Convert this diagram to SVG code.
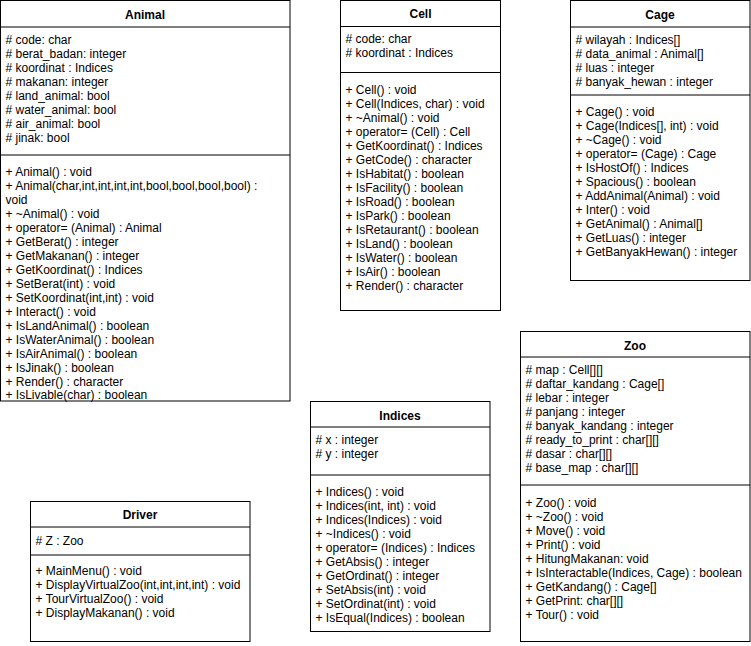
<svg xmlns="http://www.w3.org/2000/svg" width="751" height="646" viewBox="0 0 751 646">
<style>
.box{fill:#fff;stroke:#000;stroke-width:1}
.ln{stroke:#000;stroke-width:1}
text{font-family:"Liberation Sans",Arial,Helvetica,sans-serif;font-size:12px;fill:#000}
.t{font-weight:bold;text-anchor:middle}
</style>
<rect x="0" y="0" width="751" height="646" fill="#fff"/>
<g id="connectors"></g>
<g id="Animal">
<rect class="box" x="0.5" y="0.5" width="289.5" height="400.5"/>
<line class="ln" x1="0.5" y1="27" x2="290" y2="27"/>
<line class="ln" x1="0.5" y1="155" x2="290" y2="155"/>
<text class="t" x="145" y="19">Animal</text>
<text x="5.5" y="44"># code: char</text>
<text x="5.5" y="58"># berat_badan: integer</text>
<text x="5.5" y="72"># koordinat : Indices</text>
<text x="5.5" y="86"># makanan: integer</text>
<text x="5.5" y="100"># land_animal: bool</text>
<text x="5.5" y="114"># water_animal: bool</text>
<text x="5.5" y="128"># air_animal: bool</text>
<text x="5.5" y="142"># jinak: bool</text>
<text x="5.5" y="175.5">+ Animal() : void</text>
<text x="5.5" y="189.5">+ Animal(char,int,int,int,int,bool,bool,bool,bool) :</text>
<text x="5.5" y="203.5">void</text>
<text x="5.5" y="217.5">+ ~Animal() : void</text>
<text x="5.5" y="231.5">+ operator= (Animal) : Animal</text>
<text x="5.5" y="245.5">+ GetBerat() : integer</text>
<text x="5.5" y="259.5">+ GetMakanan() : integer</text>
<text x="5.5" y="273.5">+ GetKoordinat() : Indices</text>
<text x="5.5" y="287.5">+ SetBerat(int) : void</text>
<text x="5.5" y="301.5">+ SetKoordinat(int,int) : void</text>
<text x="5.5" y="315.5">+ Interact() : void</text>
<text x="5.5" y="329.5">+ IsLandAnimal() : boolean</text>
<text x="5.5" y="343.5">+ IsWaterAnimal() : boolean</text>
<text x="5.5" y="357.5">+ IsAirAnimal() : boolean</text>
<text x="5.5" y="371.5">+ IsJinak() : boolean</text>
<text x="5.5" y="385.5">+ Render() : character</text>
<text x="5.5" y="399">+ IsLivable(char) : boolean</text>
</g>
<g id="Cell">
<rect class="box" x="340.5" y="0.5" width="160" height="310"/>
<line class="ln" x1="340.5" y1="26.5" x2="500.5" y2="26.5"/>
<line class="ln" x1="340.5" y1="72.5" x2="500.5" y2="72.5"/>
<text class="t" x="420.5" y="18">Cell</text>
<text x="345.5" y="42.5"># code: char</text>
<text x="345.5" y="56.5"># koordinat : Indices</text>
<text x="345.5" y="94">+ Cell() : void</text>
<text x="345.5" y="108">+ Cell(Indices, char) : void</text>
<text x="345.5" y="122">+ ~Animal() : void</text>
<text x="345.5" y="136">+ operator= (Cell) : Cell</text>
<text x="345.5" y="150">+ GetKoordinat() : Indices</text>
<text x="345.5" y="164">+ GetCode() : character</text>
<text x="345.5" y="178">+ IsHabitat() : boolean</text>
<text x="345.5" y="192">+ IsFacility() : boolean</text>
<text x="345.5" y="206">+ IsRoad() : boolean</text>
<text x="345.5" y="220">+ IsPark() : boolean</text>
<text x="345.5" y="234">+ IsRetaurant() : boolean</text>
<text x="345.5" y="248">+ IsLand() : boolean</text>
<text x="345.5" y="262">+ IsWater() : boolean</text>
<text x="345.5" y="276">+ IsAir() : boolean</text>
<text x="345.5" y="290">+ Render() : character</text>
</g>
<g id="Cage">
<rect class="box" x="570.5" y="0.5" width="179.5" height="280"/>
<line class="ln" x1="570.5" y1="27" x2="750" y2="27"/>
<line class="ln" x1="570.5" y1="95" x2="750" y2="95"/>
<text class="t" x="660" y="19">Cage</text>
<text x="575.5" y="44"># wilayah : Indices[]</text>
<text x="575.5" y="58"># data_animal : Animal[]</text>
<text x="575.5" y="72"># luas : integer</text>
<text x="575.5" y="86"># banyak_hewan : integer</text>
<text x="575.5" y="116">+ Cage() : void</text>
<text x="575.5" y="130">+ Cage(Indices[], int) : void</text>
<text x="575.5" y="144">+ ~Cage() : void</text>
<text x="575.5" y="158">+ operator= (Cage) : Cage</text>
<text x="575.5" y="172">+ IsHostOf() : Indices</text>
<text x="575.5" y="186">+ Spacious() : boolean</text>
<text x="575.5" y="200">+ AddAnimal(Animal) : void</text>
<text x="575.5" y="214">+ Inter() : void</text>
<text x="575.5" y="228">+ GetAnimal() : Animal[]</text>
<text x="575.5" y="242">+ GetLuas() : integer</text>
<text x="575.5" y="256">+ GetBanyakHewan() : integer</text>
</g>
<g id="Zoo">
<rect class="box" x="520.5" y="331.5" width="229.5" height="310"/>
<line class="ln" x1="520.5" y1="357" x2="750" y2="357"/>
<line class="ln" x1="520.5" y1="485" x2="750" y2="485"/>
<text class="t" x="635" y="349.5">Zoo</text>
<text x="525.5" y="374"># map : Cell[][]</text>
<text x="525.5" y="388"># daftar_kandang : Cage[]</text>
<text x="525.5" y="402"># lebar : integer</text>
<text x="525.5" y="416"># panjang : integer</text>
<text x="525.5" y="430"># banyak_kandang : integer</text>
<text x="525.5" y="444"># ready_to_print : char[][]</text>
<text x="525.5" y="458"># dasar : char[][]</text>
<text x="525.5" y="472"># base_map : char[][]</text>
<text x="525.5" y="506.5">+ Zoo() : void</text>
<text x="525.5" y="520.5">+ ~Zoo() : void</text>
<text x="525.5" y="534.5">+ Move() : void</text>
<text x="525.5" y="548.5">+ Print() : void</text>
<text x="525.5" y="562.5">+ HitungMakanan: void</text>
<text x="525.5" y="576.5">+ IsInteractable(Indices, Cage) : boolean</text>
<text x="525.5" y="590.5">+ GetKandang() : Cage[]</text>
<text x="525.5" y="604.5">+ GetPrint: char[][]</text>
<text x="525.5" y="618.5">+ Tour() : void</text>
</g>
<g id="Indices">
<rect class="box" x="310.5" y="401.5" width="179.5" height="230"/>
<line class="ln" x1="310.5" y1="427" x2="490" y2="427"/>
<line class="ln" x1="310.5" y1="475" x2="490" y2="475"/>
<text class="t" x="400" y="419.5">Indices</text>
<text x="315.5" y="444"># x : integer</text>
<text x="315.5" y="458"># y : integer</text>
<text x="315.5" y="496">+ Indices() : void</text>
<text x="315.5" y="510">+ Indices(int, int) : void</text>
<text x="315.5" y="524">+ Indices(Indices) : void</text>
<text x="315.5" y="538">+ ~Indices() : void</text>
<text x="315.5" y="552">+ operator= (Indices) : Indices</text>
<text x="315.5" y="566">+ GetAbsis() : integer</text>
<text x="315.5" y="580">+ GetOrdinat() : integer</text>
<text x="315.5" y="594">+ SetAbsis(int) : void</text>
<text x="315.5" y="608">+ SetOrdinat(int) : void</text>
<text x="315.5" y="622">+ IsEqual(Indices) : boolean</text>
</g>
<g id="Driver">
<rect class="box" x="30.5" y="501.5" width="219.5" height="140"/>
<line class="ln" x1="30.5" y1="527" x2="250" y2="527"/>
<line class="ln" x1="30.5" y1="555" x2="250" y2="555"/>
<text class="t" x="140" y="519">Driver</text>
<text x="35.5" y="544.5"># Z : Zoo</text>
<text x="35.5" y="575">+ MainMenu() : void</text>
<text x="35.5" y="589">+ DisplayVirtualZoo(int,int,int,int) : void</text>
<text x="35.5" y="603">+ TourVirtualZoo() : void</text>
<text x="35.5" y="617">+ DisplayMakanan() : void</text>
</g>
</svg>
